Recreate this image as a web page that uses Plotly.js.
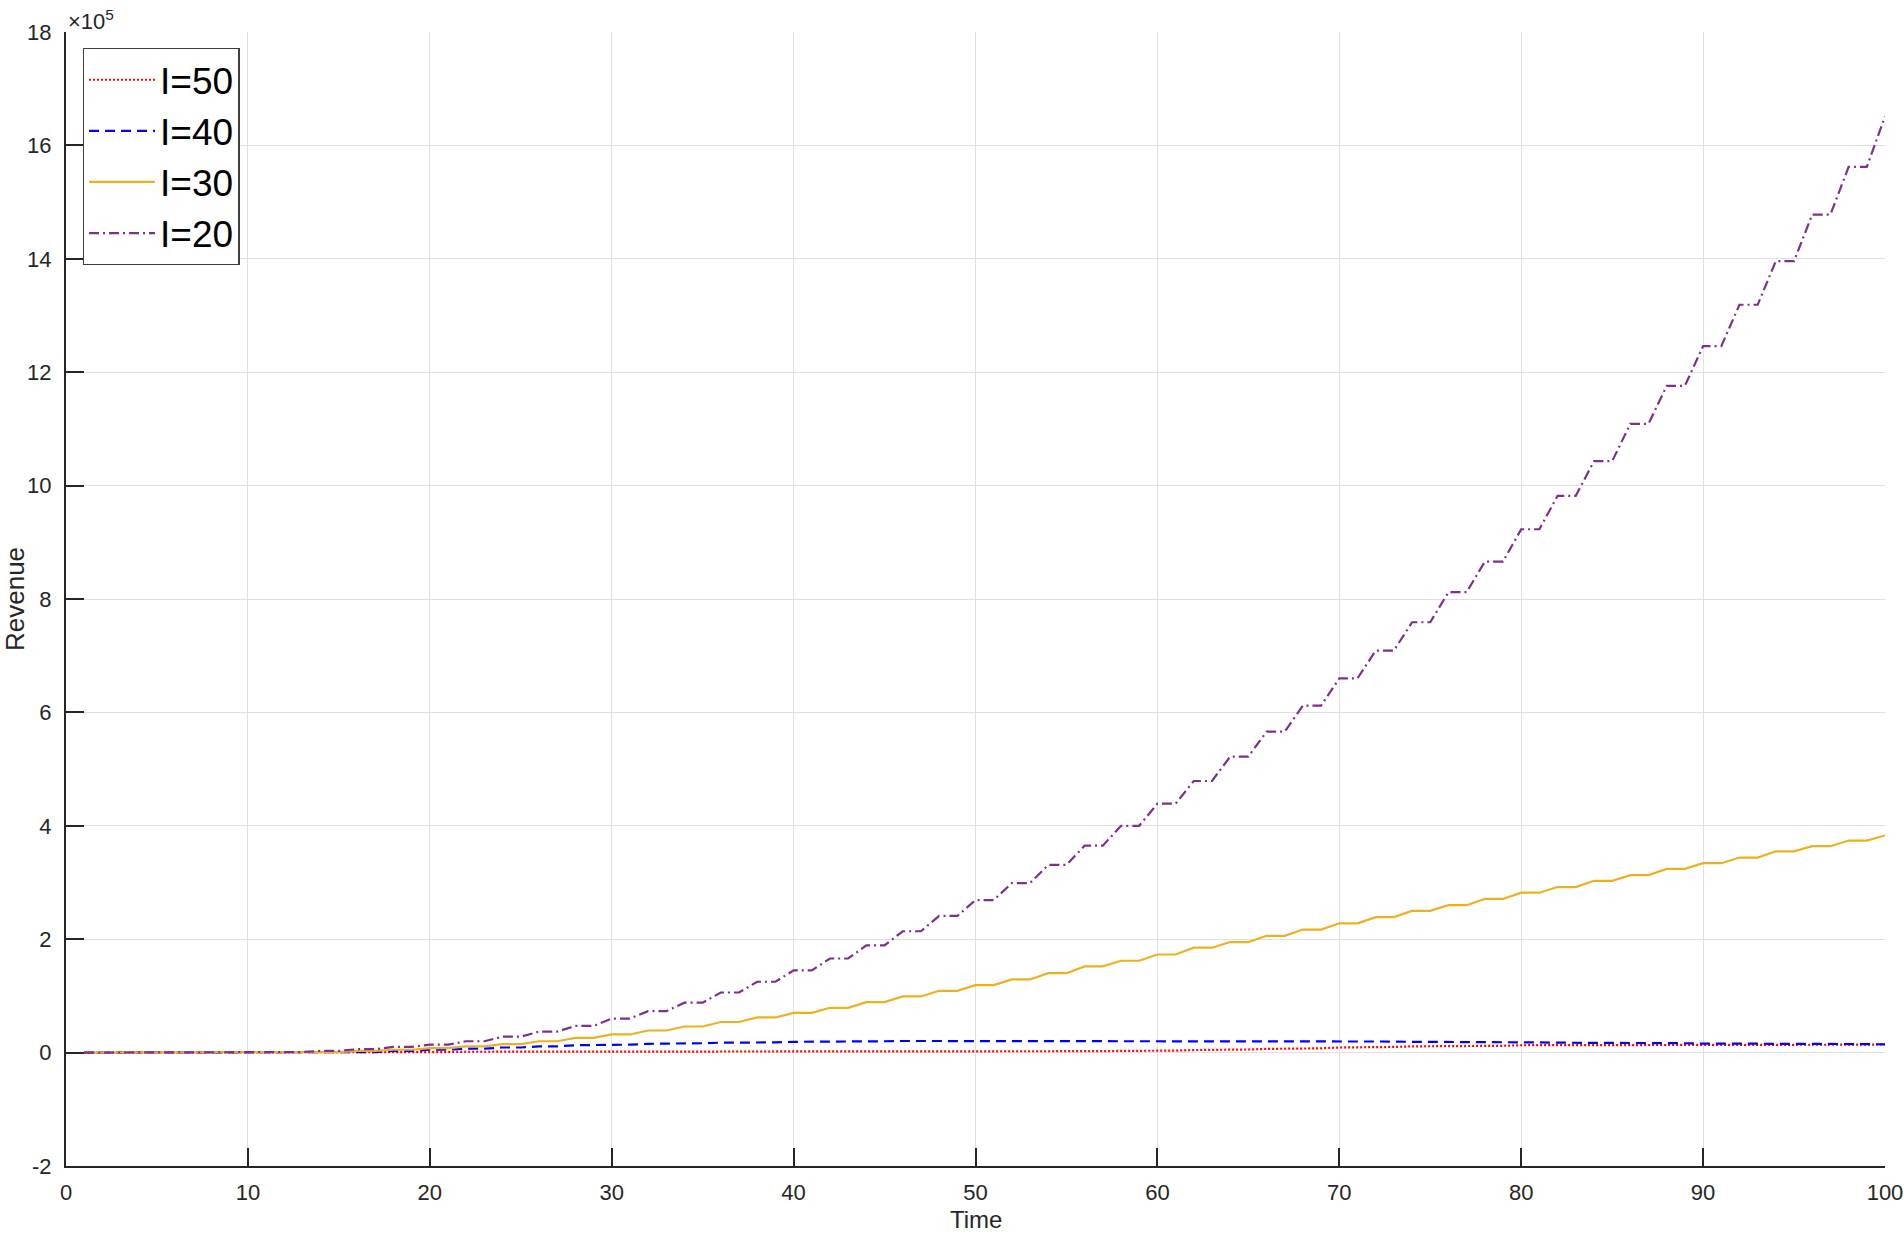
<!DOCTYPE html>
<html>
<head>
<meta charset="utf-8">
<script src="https://cdn.plot.ly/plotly-3.0.1.min.js"></script>
<style>
  html, body { margin: 0; padding: 0; background: #fff; }
  #chart { width: 1904px; height: 1233px; }
</style>
</head>
<body>
<div id="chart"></div>
<script>
// Revenue over time for four values of I (values in units of 10^5)

var time = [
  1, 2, 3, 4, 5, 6, 7, 8, 9, 10,
  11, 12, 13, 14, 15, 16, 17, 18, 19, 20,
  21, 22, 23, 24, 25, 26, 27, 28, 29, 30,
  31, 32, 33, 34, 35, 36, 37, 38, 39, 40,
  41, 42, 43, 44, 45, 46, 47, 48, 49, 50,
  51, 52, 53, 54, 55, 56, 57, 58, 59, 60,
  61, 62, 63, 64, 65, 66, 67, 68, 69, 70,
  71, 72, 73, 74, 75, 76, 77, 78, 79, 80,
  81, 82, 83, 84, 85, 86, 87, 88, 89, 90,
  91, 92, 93, 94, 95, 96, 97, 98, 99, 100
];

var revI50 = [
  0, 0, 0, 0, 0, 0, 0, 0, 0, 0,
  0, 0, 0, 0, 0, 0, 0, 0.005, 0.005, 0.01,
  0.01, 0.015, 0.015, 0.015, 0.015, 0.015, 0.015, 0.015, 0.015, 0.015,
  0.015, 0.015, 0.015, 0.015, 0.015, 0.015, 0.015, 0.015, 0.015, 0.015,
  0.015, 0.015, 0.015, 0.015, 0.015, 0.015, 0.015, 0.015, 0.015, 0.015,
  0.015, 0.015, 0.015, 0.02, 0.02, 0.025, 0.025, 0.03, 0.03, 0.035,
  0.035, 0.045, 0.045, 0.055, 0.055, 0.065, 0.065, 0.075, 0.075, 0.09,
  0.09, 0.1, 0.1, 0.11, 0.11, 0.115, 0.115, 0.12, 0.12, 0.13,
  0.13, 0.135, 0.135, 0.135, 0.135, 0.14, 0.14, 0.14, 0.14, 0.14,
  0.14, 0.14, 0.14, 0.14, 0.14, 0.14, 0.14, 0.14, 0.14, 0.145
];

var revI40 = [
  0, 0, 0, 0, 0, 0, 0, 0, 0, 0,
  0, 0, 0, 0, 0, 0.01, 0.01, 0.03, 0.03, 0.05,
  0.05, 0.07, 0.07, 0.09, 0.09, 0.11, 0.11, 0.13, 0.13, 0.14,
  0.14, 0.155, 0.155, 0.165, 0.165, 0.175, 0.175, 0.18, 0.18, 0.19,
  0.19, 0.195, 0.195, 0.2, 0.2, 0.205, 0.205, 0.205, 0.205, 0.205,
  0.205, 0.205, 0.205, 0.205, 0.205, 0.205, 0.205, 0.205, 0.205, 0.205,
  0.205, 0.2, 0.2, 0.2, 0.2, 0.2, 0.2, 0.2, 0.2, 0.2,
  0.2, 0.195, 0.195, 0.19, 0.19, 0.19, 0.19, 0.185, 0.185, 0.18,
  0.18, 0.175, 0.175, 0.17, 0.17, 0.17, 0.17, 0.165, 0.165, 0.16,
  0.16, 0.155, 0.155, 0.155, 0.155, 0.15, 0.15, 0.15, 0.15, 0.145
];

var revI30 = [
  0, 0, 0, 0, 0, 0, 0, 0, 0, 0,
  0, 0, 0, 0.01, 0.01, 0.03, 0.03, 0.05, 0.05, 0.08,
  0.08, 0.11, 0.11, 0.15, 0.15, 0.2, 0.2, 0.26, 0.26, 0.32,
  0.32, 0.39, 0.39, 0.46, 0.46, 0.54, 0.54, 0.62, 0.62, 0.7,
  0.7, 0.79, 0.79, 0.89, 0.89, 0.99, 0.99, 1.09, 1.09, 1.19,
  1.19, 1.29, 1.29, 1.4, 1.4, 1.52, 1.52, 1.62, 1.62, 1.73,
  1.73, 1.85, 1.85, 1.95, 1.95, 2.06, 2.06, 2.17, 2.17, 2.28,
  2.28, 2.39, 2.39, 2.5, 2.5, 2.6, 2.6, 2.71, 2.71, 2.82,
  2.82, 2.92, 2.92, 3.03, 3.03, 3.13, 3.13, 3.24, 3.24, 3.34,
  3.34, 3.44, 3.44, 3.55, 3.55, 3.64, 3.64, 3.74, 3.74, 3.83
];

var revI20 = [
  0, 0, 0, 0, 0, 0, 0, 0, 0, 0,
  0, 0.01, 0.01, 0.03, 0.03, 0.06, 0.06, 0.1, 0.1, 0.14,
  0.14, 0.2, 0.2, 0.28, 0.28, 0.37, 0.37, 0.47, 0.47, 0.6,
  0.6, 0.73, 0.73, 0.88, 0.88, 1.06, 1.06, 1.25, 1.25, 1.45,
  1.45, 1.66, 1.66, 1.89, 1.89, 2.14, 2.14, 2.41, 2.41, 2.69,
  2.69, 2.99, 2.99, 3.31, 3.31, 3.65, 3.65, 4.0, 4.0, 4.39,
  4.39, 4.79, 4.79, 5.22, 5.22, 5.66, 5.66, 6.12, 6.12, 6.6,
  6.6, 7.09, 7.09, 7.59, 7.59, 8.12, 8.12, 8.66, 8.66, 9.23,
  9.23, 9.82, 9.82, 10.43, 10.43, 11.09, 11.09, 11.76, 11.76, 12.46,
  12.46, 13.19, 13.19, 13.96, 13.96, 14.78, 14.78, 15.62, 15.62, 16.51
];

var seriesNames = ['I=50', 'I=40', 'I=30', 'I=20'];
var yTicks = [-2, 0, 2, 4, 6, 8, 10, 12, 14, 16, 18];
var xTicks = [0, 10, 20, 30, 40, 50, 60, 70, 80, 90, 100];

var fontFam = 'Liberation Sans, Arial, Helvetica, sans-serif';
var ink = '#262626';

var lineI50 = {
  x: time, y: revI50, type: 'scatter', mode: 'lines', name: seriesNames[0],
  line: { color: '#ff0000', width: 2.2, dash: '2px,2px' }
};
var lineI40 = {
  x: time, y: revI40, type: 'scatter', mode: 'lines', name: seriesNames[1],
  line: { color: '#0000ff', width: 2.2, dash: '10px,6px' }
};
var lineI30 = {
  x: time, y: revI30, type: 'scatter', mode: 'lines', name: seriesNames[2],
  line: { color: '#edb120', width: 2.2 }
};
var lineI20 = {
  x: time, y: revI20, type: 'scatter', mode: 'lines', name: seriesNames[3],
  line: { color: '#7e2f8e', width: 2.2, dash: '10px,4px,2px,4px' }
};

var data = [lineI50, lineI40, lineI30, lineI20];

var axisCommon = {
  showgrid: true,
  gridcolor: '#e0e0e0',
  gridwidth: 1,
  zeroline: false,
  showline: true,
  linecolor: ink,
  linewidth: 2,
  ticks: 'inside',
  ticklen: 18,
  tickwidth: 2,
  tickcolor: ink,
  tickfont: { family: fontFam, size: 22, color: ink }
};

var layout = {
  width: 1904,
  height: 1233,
  paper_bgcolor: '#ffffff',
  plot_bgcolor: '#ffffff',
  margin: { l: 66, r: 19, t: 32, b: 67 },
  font: { family: fontFam, color: ink },
  showlegend: true,
  legend: {
    x: 0.0092, y: 0.986, xanchor: 'left', yanchor: 'top',
    bgcolor: '#ffffff',
    bordercolor: '#404040',
    borderwidth: 1.3,
    itemwidth: 66,
    font: { family: fontFam, size: 37, color: '#000000' }
  },
  xaxis: Object.assign({}, axisCommon, {
    range: [0, 100],
    tickvals: xTicks,
    ticktext: xTicks.map(String),
    ticklabelstandoff: 6
  }),
  yaxis: Object.assign({}, axisCommon, {
    range: [-2, 18],
    tickvals: yTicks,
    ticktext: yTicks.map(String),
    ticklabelstandoff: 8,
    title: { text: 'Revenue', font: { family: fontFam, size: 26, color: ink }, standoff: 6 }
  }),
  annotations: [{
    xref: 'paper', yref: 'paper', x: 0, y: 1,
    xanchor: 'left', yanchor: 'bottom', showarrow: false, yshift: -4,
    text: '×10<sup>5</sup>',
    font: { family: fontFam, size: 22, color: ink }
  }, {
    // x-axis title placed as an annotation to control its distance from the tick labels
    xref: 'paper', yref: 'paper', x: 0.5, y: 0,
    xanchor: 'center', yanchor: 'middle', showarrow: false, yshift: -53,
    text: 'Time',
    font: { family: fontFam, size: 24, color: ink }
  }]
};

Plotly.newPlot('chart', data, layout, { displayModeBar: false, staticPlot: true });
</script>
</body>
</html>
